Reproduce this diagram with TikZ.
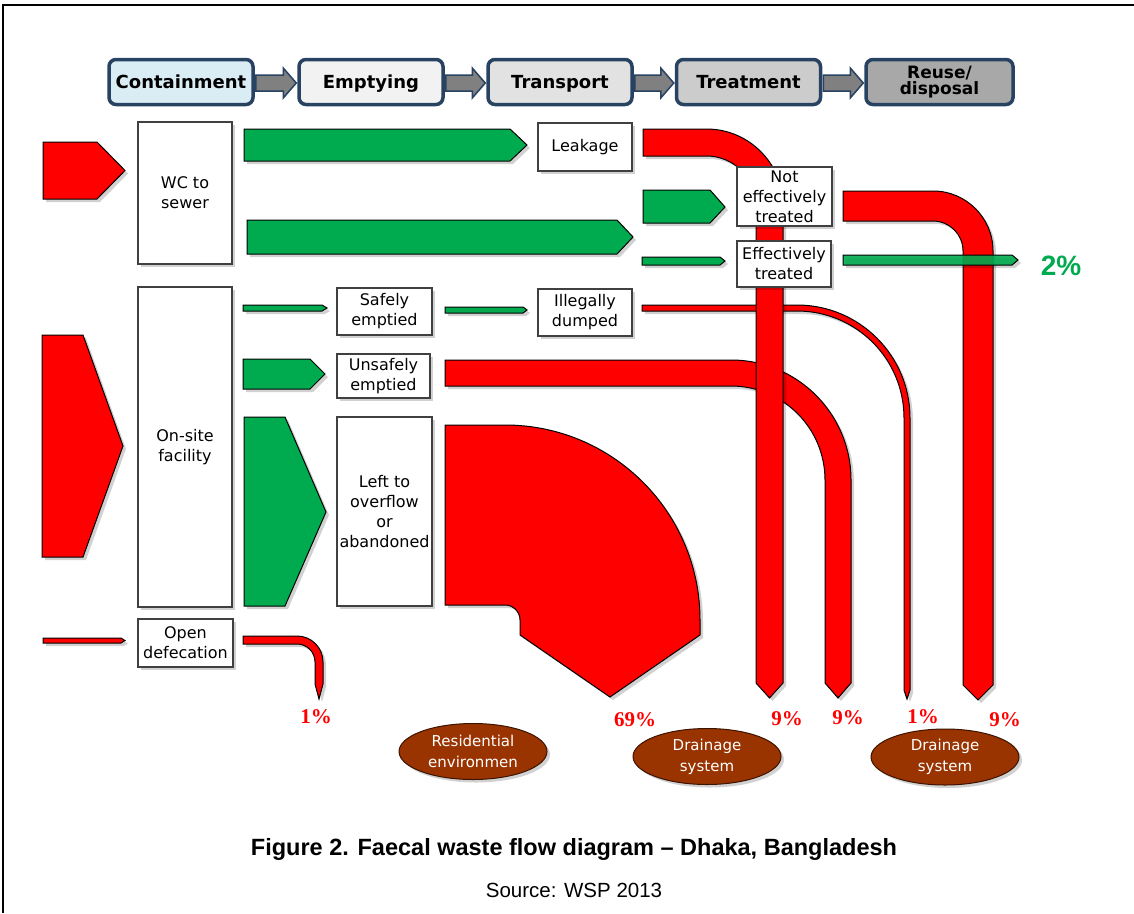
\documentclass[tikz,border=0pt]{standalone}
\usepackage{fontspec}
\setmainfont{DejaVu Sans}
\newfontfamily\arialfont{Liberation Sans}
\newfontfamily\timesfont{Liberation Serif}
\usetikzlibrary{shadows,shapes.geometric}
\definecolor{fred}{RGB}{255,0,0}
\definecolor{fgreen}{RGB}{0,170,78}
\definecolor{navy}{RGB}{40,66,98}
\definecolor{brownell}{RGB}{153,51,0}
\definecolor{hblue}{RGB}{218,236,244}
\definecolor{hg1}{RGB}{242,242,242}
\definecolor{hg2}{RGB}{226,226,226}
\definecolor{hg3}{RGB}{204,204,204}
\definecolor{hg4}{RGB}{168,168,168}
\definecolor{harrowfill}{RGB}{128,128,128}
\begin{document}
\begin{tikzpicture}[x=1pt,y=-1pt,
  shadowed/.style={drop shadow={shadow xshift=3pt,shadow yshift=-3pt,fill=black,opacity=0.18}},
  box/.style={draw=black!75,line width=1.2pt,fill=white,align=center,inner sep=0pt,
    font=\fontsize{16}{20}\selectfont,shadowed},
  hbox/.style={draw=navy,line width=3.5pt,rounded corners=7pt,align=center,inner sep=0pt,
    minimum height=45,minimum width=144,font=\bfseries\fontsize{18}{17}\selectfont},
  hone/.style={hbox,text height=15pt,text depth=2pt},
  harrow/.style={fill=harrowfill,draw=navy,line width=1.5pt},
  redflow/.style={fill=fred,draw=black,line width=1pt,shadowed},
  greenflow/.style={fill=fgreen,draw=black,line width=1pt,shadowed},
  pct/.style={font=\timesfont\bfseries\fontsize{21}{21}\selectfont,text=fred},
  ell/.style={ellipse,draw=black!60!brownell,fill=brownell,text=white,line width=1pt,
    minimum width=148,minimum height=56,inner sep=0pt,align=center,
    font=\fontsize{15}{21}\selectfont,shadowed}]
\useasboundingbox (0,0) rectangle (1134,913);
\fill[white] (0,0) rectangle (1134,913);
\draw[line width=2pt] (3,913) -- (3,5) -- (1134,5);

% ---------- header ----------
\node[hone,fill=hblue] (h1) at (181,82) {Containment};
\node[hone,fill=hg1]   (h2) at (371,82) {Emptying};
\node[hone,fill=hg2]   (h3) at (560,82) {Transport};
\node[hone,fill=hg3]   (h4) at (748.5,82) {Treatment};
\node[hbox,fill=hg4,minimum width=147,font=\bfseries\fontsize{17}{16}\selectfont] (h5) at (939.5,82) {Reuse/\\disposal};
\foreach \a/\b in {h1/h2,h2/h3,h3/h4,h4/h5}{
  \path[harrow] ([xshift=1pt]\a.east|-0,75) -- ([xshift=-14pt]\b.west|-0,75)
    -- ([xshift=-14pt]\b.west|-0,68) -- ([xshift=-1pt]\b.west|-0,83)
    -- ([xshift=-14pt]\b.west|-0,98) -- ([xshift=-14pt]\b.west|-0,91)
    -- ([xshift=1pt]\a.east|-0,91) -- cycle;
}

% ---------- inputs ----------
\path[redflow] (43,142) -- (97,142) -- (125,170.5) -- (97,199) -- (43,199) -- cycle;
\path[redflow] (42,335) -- (83,335) -- (123,446) -- (83,557) -- (42,557) -- cycle;
\path[redflow] (43,638) -- (121,638) -- (125,640.5) -- (121,643) -- (43,643) -- cycle;

% ---------- green flows ----------
\path[greenflow] (244,129) -- (510,129) -- (527,145) -- (510,161) -- (244,161) -- cycle;
\path[greenflow] (247,220) -- (617,220) -- (633,237) -- (617,254) -- (247,254) -- cycle;
\path[greenflow] (643,190) -- (710,190) -- (725,207) -- (710,223) -- (643,223) -- cycle;
\path[greenflow] (642,257) -- (720,257) -- (725,261) -- (720,265) -- (642,265) -- cycle;
\path[greenflow] (243,305) -- (322,305) -- (327,308) -- (322,311) -- (243,311) -- cycle;
\path[greenflow] (445,307) -- (523,307) -- (527,310) -- (523,313) -- (445,313) -- cycle;
\path[greenflow] (243,359) -- (310,359) -- (325,374) -- (310,389) -- (243,389) -- cycle;
\path[greenflow] (244,417) -- (285,417) -- (326,512) -- (285,606) -- (244,606) -- cycle;

% ---------- red pipes ----------
% left to overflow (69%)
\path[redflow] (445,425) -- (505,425) arc[start angle=-90,end angle=0,radius=195]
  -- (700,635) -- (610,697) -- (520,635) -- (520,620)
  arc[start angle=0,end angle=-90,radius=15] -- (445,605) -- cycle;
% open defecation (1%)
\path[redflow] (243,636) -- (297,636) arc[start angle=-90,end angle=0,radius=26]
  -- (323,684) -- (319,699) -- (315,684) -- (315,662)
  arc[start angle=0,end angle=-90,radius=18] -- (243,644) -- cycle;
% illegally dumped (1%)
\path[redflow] (642,305) -- (797,305) arc[start angle=-90,end angle=0,radius=113]
  -- (910,690) -- (907,699) -- (904,690) -- (904,418)
  arc[start angle=0,end angle=-90,radius=107] -- (642,311) -- cycle;
% unsafely emptied (9%)
\path[redflow] (445,360) -- (731,360) arc[start angle=-90,end angle=0,radius=120]
  -- (851,683) -- (838,698) -- (825,683) -- (825,480)
  arc[start angle=0,end angle=-90,radius=94] -- (445,386) -- cycle;
% not effectively treated (9%)
\path[redflow] (843,191) -- (933,191) arc[start angle=-90,end angle=0,radius=60]
  -- (993,685) -- (978,700) -- (963,685) -- (963,251)
  arc[start angle=0,end angle=-90,radius=30] -- (843,221) -- cycle;
% leakage (9%)
\path[redflow] (643,129) -- (706.5,129) arc[start angle=-90,end angle=0,radius=76.5]
  -- (783,683) -- (769.5,698) -- (756,683) -- (756,205.5)
  arc[start angle=0,end angle=-90,radius=49.5] -- (643,156) -- cycle;
% effectively treated out (2%)
\path[greenflow,fill opacity=0.9] (843,255) -- (1012,255) -- (1018,260) -- (1012,265) -- (843,265) -- cycle;

% ---------- boxes ----------
\node[box,minimum width=94,minimum height=142] (wc) at (185,193) {WC to\\sewer};
\node[box,minimum width=94,minimum height=48] (leak) at (585,147) {Leakage};
\node[box,minimum width=95,minimum height=59] (neff) at (784.5,196.5) {Not\\effectively\\treated};
\node[box,minimum width=94,minimum height=46] (eff) at (784,264) {Effectively\\treated};
\node[box,minimum width=94,minimum height=320] (onsite) at (185,447) {On-site\\facility};
\node[box,minimum width=95,minimum height=47] (safe) at (384.5,311.5) {Safely\\emptied};
\node[box,minimum width=93,minimum height=44] (unsafe) at (383.5,376) {Unsafely\\emptied};
\node[box,minimum width=95,minimum height=189] (left) at (384.5,511.5) {Left to\\overflow\\or\\abandoned};
\node[box,minimum width=94,minimum height=47] (illeg) at (585,312.5) {Illegally\\dumped};
\node[box,minimum width=95,minimum height=48] (open) at (185.5,643) {Open\\defecation};

% ---------- percentages ----------
\node[pct] (p1) at (316,717) {1\%};
\node[pct] (p2) at (635,720) {69\%};
\node[pct] (p3) at (787,719) {9\%};
\node[pct] (p4) at (848,718) {9\%};
\node[pct] (p5) at (923,717) {1\%};
\node[pct] (p6) at (1005,720) {9\%};
\node[font=\arialfont\bfseries\fontsize{28}{28}\selectfont,text=fgreen] (p7) at (1061,266) {2\%};

% ---------- destinations ----------
\node[ell] (res) at (473,751.5) {Residential\\environmen};
\node[ell] (dr1) at (707,756.5) {Drainage\\system};
\node[ell] (dr2) at (945,757) {Drainage\\system};

% ---------- caption ----------
\node[font=\arialfont\bfseries\fontsize{23.5}{23.5}\selectfont] (cap) at (574,849) {Figure 2. Faecal waste flow diagram – Dhaka, Bangladesh};
\node[font=\arialfont\fontsize{20.5}{20.5}\selectfont] (src) at (574,890) {Source: WSP 2013};
\end{tikzpicture}
\end{document}
